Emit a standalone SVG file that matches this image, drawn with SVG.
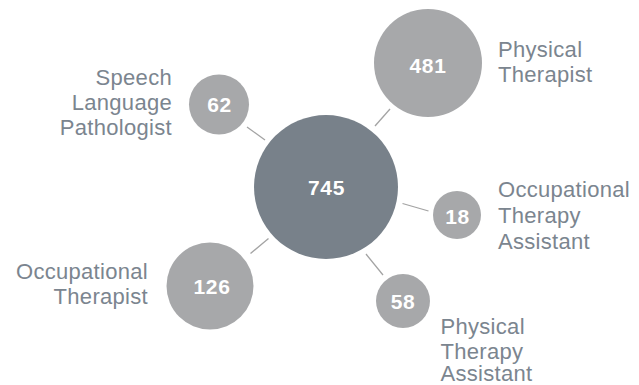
<svg xmlns="http://www.w3.org/2000/svg" width="639" height="385" viewBox="0 0 639 385">
<style>
.c{fill:#a7a8aa}
.main{fill:#78818a}
.n{font-family:"Liberation Sans",Arial,sans-serif;font-weight:bold;font-size:21px;fill:#ffffff;text-anchor:middle;letter-spacing:0.6px}
.l{font-family:"Liberation Sans",Arial,sans-serif;font-size:22px;fill:#7b858f;letter-spacing:0.3px}
.r{text-anchor:end}
.ln{stroke:#a3a3a3;stroke-width:1.3;fill:none}
</style>
<rect width="639" height="385" fill="#ffffff"/>
<g id="connectors">
<line class="ln" x1="247" y1="127" x2="265" y2="140"/>
<line class="ln" x1="375" y1="126" x2="390" y2="109"/>
<line class="ln" x1="402.5" y1="203.5" x2="428.5" y2="211"/>
<line class="ln" x1="250.5" y1="253.5" x2="268.5" y2="238.5"/>
<line class="ln" x1="366" y1="254" x2="383" y2="275"/>
</g>
<g id="center">
<circle class="main" cx="326" cy="187" r="72"/>
<text class="n" x="326.5" y="195" font-size="22">745</text>
</g>
<g id="pt">
<circle class="c" cx="428" cy="63" r="54"/>
<text class="n" x="428" y="72.5">481</text>
<text class="l" x="498" y="56.5">Physical</text>
<text class="l" x="498" y="81.5">Therapist</text>
</g>
<g id="slp">
<circle class="c" cx="219" cy="104.5" r="30"/>
<text class="n" x="219.5" y="111.5">62</text>
<text class="l r" x="172" y="84.5">Speech</text>
<text class="l r" x="172" y="110">Language</text>
<text class="l r" x="172" y="134.5">Pathologist</text>
</g>
<g id="ota">
<circle class="c" cx="457" cy="215" r="24"/>
<text class="n" x="457.5" y="224">18</text>
<text class="l" x="498" y="197">Occupational</text>
<text class="l" x="498" y="223">Therapy</text>
<text class="l" x="498" y="248.5">Assistant</text>
</g>
<g id="ot">
<circle class="c" cx="210" cy="286" r="43.5"/>
<text class="n" x="212" y="293.5">126</text>
<text class="l r" x="148" y="278.5">Occupational</text>
<text class="l r" x="148" y="304">Therapist</text>
</g>
<g id="pta">
<circle class="c" cx="403" cy="301" r="27"/>
<text class="n" x="403" y="309">58</text>
<text class="l" x="440.5" y="333.5">Physical</text>
<text class="l" x="440.5" y="358.5">Therapy</text>
<text class="l" x="440.5" y="381">Assistant</text>
</g>
</svg>
